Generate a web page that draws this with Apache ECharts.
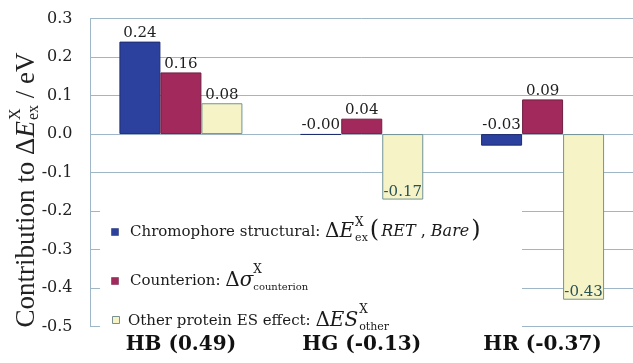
<!DOCTYPE html>
<html><head><meta charset="utf-8">
<script src="https://cdn.jsdelivr.net/npm/echarts@6/dist/echarts.min.js"></script>
<style>html,body{margin:0;padding:0;background:#fff}#c{width:633px;height:363px}</style>
</head><body><div id="c"></div>
<script>
// ---- data ----
const categories = ['HB (0.49)', 'HG (-0.13)', 'HR (-0.37)'];
const chromophore = [0.24, -0.002, -0.03];
const counterion = [0.16, 0.04, 0.09];
const otherProtein = [0.08, -0.17, -0.43];
const yMin = -0.5, yMax = 0.3, yStep = 0.1;

// ---- styles ----
const SERIF = '"DejaVu Serif", serif';
const TSERIF = '"Liberation Serif", "Times New Roman", serif';
const GRID_C = '#9fb6c6';
const colors = { blue: '#2c409d', mag: '#a2295c', yel: '#f6f4c6' };

const cvs = document.createElement('canvas').getContext('2d');
function tw(t, font) { cvs.font = font; return cvs.measureText(t).width; }

function txt(x, y, t, font, fill, extra) {
  return Object.assign({
    type: 'text', x: x, y: y, z: 100,
    style: { text: t, font: font, fill: fill || '#1a1a1a', align: 'left', verticalAlign: 'middle',
             textAlign: 'left', textVerticalAlign: 'middle' }
  }, extra || {});
}

// sequential layout: parts [{t, font, dy, stack:[{t,font,dy}]}]
function seq(x, y, parts, fill) {
  const out = [];
  let cx = x;
  parts.forEach(p => {
    if (p.stack) {
      let mw = 0;
      p.stack.forEach(s => { out.push(txt(cx, y + s.dy, s.t, s.font, fill)); mw = Math.max(mw, tw(s.t, s.font)); });
      cx += mw + (p.after || 0);
    } else {
      out.push(txt(cx + (p.dx || 0), y + (p.dy || 0), p.t, p.font, fill));
      cx += tw(p.t, p.font) + (p.dx || 0) + (p.after || 0);
    }
  });
  return { els: out, w: cx - x };
}

// ---- y-axis name (rotated) ----
const nf = '27px ' + TSERIF, nfi = 'italic 27px ' + TSERIF, ns = '16px ' + TSERIF;
const nameParts = [
  { t: 'Contribution to ', font: nf },
  { t: 'Δ', font: nf },
  { t: 'E', font: nfi, after: 1 },
  { stack: [{ t: 'X', font: ns, dy: -11 }, { t: 'ex', font: ns, dy: 7 }], after: 0 },
  { t: ' / eV', font: nf }
];
const nameTmp = seq(0, 0, nameParts);
const nameLayout = seq(-nameTmp.w / 2, 0, nameParts, '#222');

// ---- legend (drawn as graphic) ----
const lf = '15px ' + SERIF, mf = '20px ' + SERIF, mfi = 'italic 20px ' + SERIF;
const sf = '12px ' + SERIF, pf = '24px ' + SERIF, rfi = 'italic 16px ' + SERIF, rf = '16px ' + SERIF;
const row1 = seq(130, 232, [
  { t: 'Chromophore structural: ', font: lf },
  { t: 'Δ', font: mf },
  { t: 'E', font: mfi, after: 1 },
  { stack: [{ t: 'X', font: sf, dy: -9 }, { t: 'ex', font: '11px ' + SERIF, dy: 6 }], after: 2 },
  { t: '(', font: pf, dy: -1, after: 2 },
  { t: 'RET', font: rfi },
  { t: ' , ', font: rf },
  { t: 'Bare', font: rfi, after: 2 },
  { t: ')', font: pf, dy: -1 }
]);
const row2 = seq(130, 281, [
  { t: 'Counterion: ', font: lf },
  { t: 'Δ', font: mf },
  { t: 'σ', font: mfi, after: 0 },
  { stack: [{ t: 'X', font: sf, dy: -11 }, { t: 'counterion', font: '10px ' + SERIF, dy: 6 }] }
]);
const row3 = seq(128, 321, [
  { t: 'Other protein ES effect: ', font: lf },
  { t: 'Δ', font: mf },
  { t: 'ES', font: mfi, after: 1 },
  { stack: [{ t: 'X', font: sf, dy: -11 }, { t: 'other', font: '11px ' + SERIF, dy: 6 }] }
]);

const graphic = [
  { type: 'rect', z: 50, shape: { x: 100, y: 204, width: 422, height: 126 }, style: { fill: '#ffffff' } },
  { type: 'rect', z: 100, shape: { x: 111.5, y: 228.5, width: 7, height: 7 }, style: { fill: colors.blue, stroke: '#1d2a6a', lineWidth: 0.5 } },
  { type: 'rect', z: 100, shape: { x: 111.5, y: 277.5, width: 7, height: 7 }, style: { fill: colors.mag, stroke: '#6d1d3e', lineWidth: 0.5 } },
  { type: 'rect', z: 100, shape: { x: 112.5, y: 316.5, width: 7, height: 7 }, style: { fill: colors.yel, stroke: '#7a8f90', lineWidth: 1 } },
  { type: 'group', x: 27, y: 190, rotation: Math.PI / 2, z: 100, children: nameLayout.els }
].concat(row1.els, row2.els, row3.els);

// ---- labels ----
function labelFor(v) {
  if (v > -0.1) return { position: 'top', distance: 1 };
  return { position: 'insideBottom', distance: 0, color: '#2a5259' };
}
function mk(arr) { return arr.map(v => ({ value: v, label: labelFor(v) })); }

const baseLabel = {
  show: true, fontFamily: SERIF, fontSize: 15, color: '#1e1e1e',
  formatter: p => p.value.toFixed(2)
};

const chart = echarts.init(document.getElementById('c'), null, { renderer: 'canvas' });
chart.setOption({
  animation: false,
  backgroundColor: '#ffffff',
  grid: { left: 90.5, top: 18.5, bottom: 36.3, right: -9, containLabel: false },
  xAxis: {
    type: 'category', data: categories,
    axisLine: { show: false }, axisTick: { show: false },
    axisLabel: { margin: 8, fontFamily: SERIF, fontWeight: 'bold', fontSize: 20, color: '#111' },
    splitLine: { show: false }
  },
  yAxis: {
    type: 'value', min: yMin, max: yMax, interval: yStep,
    axisLine: { show: true, lineStyle: { color: GRID_C, width: 1 } },
    axisTick: { show: false },
    axisLabel: { margin: 18, fontFamily: SERIF, fontSize: 16, color: '#222', formatter: v => v.toFixed(1) },
    splitLine: { show: true, lineStyle: { color: GRID_C, width: 1 } }
  },
  series: [
    { name: 'Chromophore structural', type: 'bar', data: mk(chromophore), barWidth: 41, barGap: '0%',
      itemStyle: { color: colors.blue, borderColor: '#1f2c70', borderWidth: 1 }, label: baseLabel },
    { name: 'Counterion', type: 'bar', data: mk(counterion), barWidth: 41, barGap: '0%',
      itemStyle: { color: colors.mag, borderColor: '#6e1f40', borderWidth: 1 }, label: baseLabel },
    { name: 'Other protein ES effect', type: 'bar', data: mk(otherProtein), barWidth: 41, barGap: '0%',
      itemStyle: { color: colors.yel, borderColor: '#6f9399', borderWidth: 1 }, label: baseLabel }
  ],
  graphic: graphic
});
</script></body></html>
